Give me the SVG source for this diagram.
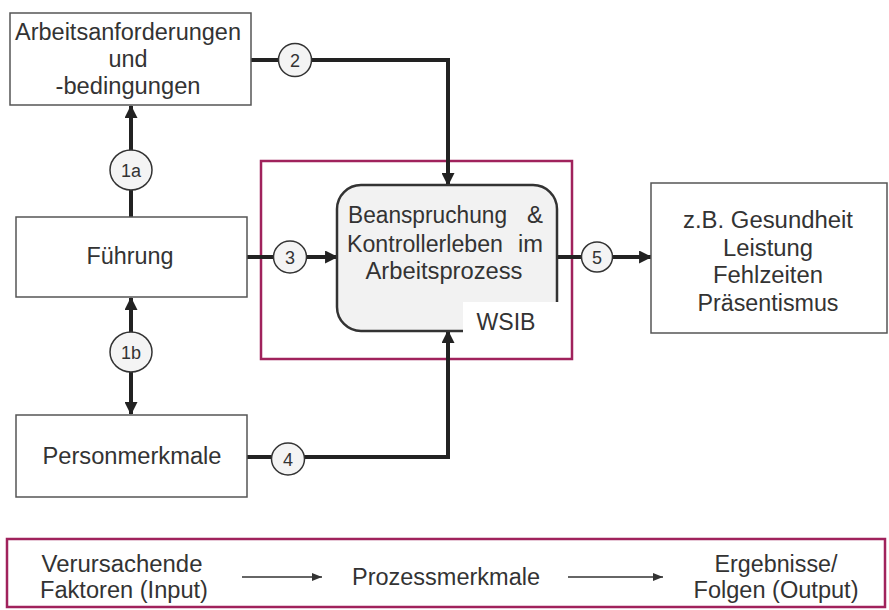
<svg xmlns="http://www.w3.org/2000/svg" width="889" height="610" viewBox="0 0 889 610">
  <style>
    .box { fill: #ffffff; stroke: #555555; stroke-width: 1.5; }
    .lbl { font-family: "Liberation Sans", Arial, sans-serif; font-size: 23px; fill: #333333; text-anchor: middle; }
    .num { font-family: "Liberation Sans", Arial, sans-serif; font-size: 18px; fill: #333333; text-anchor: middle; }
    .badge { fill: #f4f4f4; stroke: #333333; stroke-width: 1.5; }
    .wire { fill: none; stroke: #222222; stroke-width: 4; }
    .thin { fill: none; stroke: #333333; stroke-width: 1.6; }
    .frame { fill: none; stroke: #a0225c; stroke-width: 2.5; }
  </style>
  <defs>
    <marker id="head" viewBox="0 0 12 12" refX="11" refY="6" markerWidth="13" markerHeight="13" markerUnits="userSpaceOnUse" orient="auto-start-reverse">
      <path d="M0,0 L12,6 L0,12 z" fill="#222222"/>
    </marker>
    <marker id="small" viewBox="0 0 10 8" refX="10" refY="4" markerWidth="10" markerHeight="8" markerUnits="userSpaceOnUse" orient="auto">
      <path d="M0,0 L10,4 L0,8 z" fill="#333333"/>
    </marker>
  </defs>

  <rect width="889" height="610" fill="#ffffff"/>

  <!-- process frame -->
  <rect id="frame" class="frame" x="261" y="161" width="311" height="198"/>

  <!-- connectors -->
  <g id="connectors">
    <path class="wire" d="M131,217 L131,106" marker-end="url(#head)"/>
    <path class="wire" d="M131,298 L131,414" marker-start="url(#head)" marker-end="url(#head)"/>
    <path class="wire" d="M251,60 L448,60 L448,185" marker-end="url(#head)"/>
    <path class="wire" d="M247,257 L337,257" marker-end="url(#head)"/>
    <path class="wire" d="M246,457 L448,457 L448,331" marker-end="url(#head)"/>
    <path class="wire" d="M557,257 L651,257" marker-end="url(#head)"/>
  </g>

  <!-- number badges -->
  <g id="badge-1a"><ellipse class="badge" cx="131" cy="170" rx="21" ry="20"/><text class="num" x="131" y="177">1a</text></g>
  <g id="badge-1b"><ellipse class="badge" cx="131" cy="352" rx="21" ry="20"/><text class="num" x="131" y="359">1b</text></g>
  <g id="badge-2"><ellipse class="badge" cx="295" cy="60" rx="16.5" ry="16.5"/><text class="num" x="295" y="67">2</text></g>
  <g id="badge-3"><ellipse class="badge" cx="290" cy="257" rx="16.5" ry="16"/><text class="num" x="290" y="264">3</text></g>
  <g id="badge-4"><ellipse class="badge" cx="288" cy="459" rx="16.5" ry="16"/><text class="num" x="288" y="466">4</text></g>
  <g id="badge-5"><ellipse class="badge" cx="597" cy="257" rx="15.5" ry="15"/><text class="num" x="597" y="264">5</text></g>

  <!-- input nodes -->
  <g id="arbeitsanforderungen">
    <rect class="box" x="10" y="13" width="241" height="92"/>
    <text class="lbl" x="128" y="40" textLength="226" lengthAdjust="spacingAndGlyphs">Arbeitsanforderungen</text>
    <text class="lbl" x="128" y="67" textLength="39" lengthAdjust="spacingAndGlyphs">und</text>
    <text class="lbl" x="128" y="94" textLength="145" lengthAdjust="spacingAndGlyphs">-bedingungen</text>
  </g>
  <g id="fuehrung">
    <rect class="box" x="16" y="217" width="231" height="80"/>
    <text class="lbl" x="130" y="264" textLength="87" lengthAdjust="spacingAndGlyphs">Führung</text>
  </g>
  <g id="personmerkmale">
    <rect class="box" x="16" y="415" width="231" height="82"/>
    <text class="lbl" x="132" y="464" textLength="179" lengthAdjust="spacingAndGlyphs">Personmerkmale</text>
  </g>

  <!-- process node -->
  <g id="beanspruchung">
    <rect x="337" y="185" width="220" height="146" rx="24" ry="24" fill="#f2f2f2" stroke="#333333" stroke-width="2.5"/>
    <rect x="463" y="302" width="99" height="34" fill="#ffffff"/>
    <text class="lbl" style="text-anchor:start" x="348" y="223" textLength="159" lengthAdjust="spacingAndGlyphs">Beanspruchung</text>
    <text class="lbl" style="text-anchor:start" x="527" y="223" textLength="16" lengthAdjust="spacingAndGlyphs">&amp;</text>
    <text class="lbl" style="text-anchor:start" x="347" y="252" textLength="156" lengthAdjust="spacingAndGlyphs">Kontrollerleben</text>
    <text class="lbl" style="text-anchor:start" x="518" y="252" textLength="25" lengthAdjust="spacingAndGlyphs">im</text>
    <text class="lbl" x="444" y="279" textLength="157" lengthAdjust="spacingAndGlyphs">Arbeitsprozess</text>
    <text class="lbl" x="506" y="330" textLength="59" lengthAdjust="spacingAndGlyphs">WSIB</text>
  </g>

  <!-- output node -->
  <g id="ergebnisse">
    <rect class="box" x="651" y="183" width="236" height="150"/>
    <text class="lbl" x="768" y="228" textLength="170" lengthAdjust="spacingAndGlyphs">z.B. Gesundheit</text>
    <text class="lbl" x="768" y="256" textLength="90" lengthAdjust="spacingAndGlyphs">Leistung</text>
    <text class="lbl" x="768" y="283" textLength="110" lengthAdjust="spacingAndGlyphs">Fehlzeiten</text>
    <text class="lbl" x="768" y="311" textLength="141" lengthAdjust="spacingAndGlyphs">Präsentismus</text>
  </g>

  <!-- legend -->
  <g id="legend">
    <rect class="frame" x="7" y="539" width="878" height="68"/>
    <text class="lbl" x="122" y="572" textLength="161" lengthAdjust="spacingAndGlyphs">Verursachende</text>
    <text class="lbl" x="124" y="598" textLength="168" lengthAdjust="spacingAndGlyphs">Faktoren (Input)</text>
    <path class="thin" d="M242,577 L322,577" marker-end="url(#small)"/>
    <text class="lbl" x="446" y="585" textLength="188" lengthAdjust="spacingAndGlyphs">Prozessmerkmale</text>
    <path class="thin" d="M568,577 L663,577" marker-end="url(#small)"/>
    <text class="lbl" x="776" y="572" textLength="123" lengthAdjust="spacingAndGlyphs">Ergebnisse/</text>
    <text class="lbl" x="776" y="598" textLength="165" lengthAdjust="spacingAndGlyphs">Folgen (Output)</text>
  </g>
</svg>
